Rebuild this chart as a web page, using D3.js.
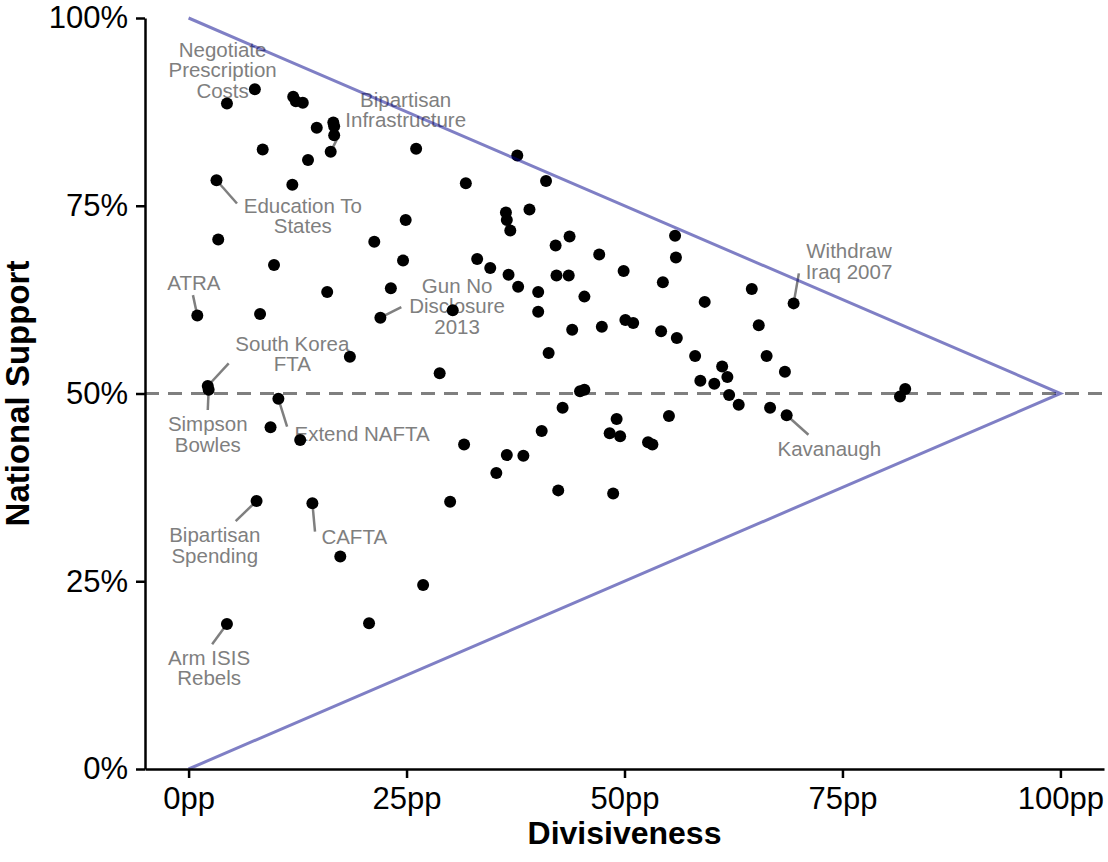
<!DOCTYPE html>
<html>
<head>
<meta charset="utf-8">
<script src="https://cdn.jsdelivr.net/npm/d3@7"></script>
<style>
  body { margin: 0; background: #fff; }
  svg { display: block; font-family: "Liberation Sans", Arial, Helvetica, sans-serif; }
</style>
</head>
<body>
<div class="chart"></div>
<script>
// divisiveness (pp) and national support (%) for each bill / vote
var divisiveness = [4.4, 7.6, 12.0, 12.3, 13.1, 16.6, 16.7, 16.7, 14.7, 16.3,
  8.5, 13.7, 26.1, 3.2, 11.9, 31.8, 24.9, 21.3, 3.4, 24.6,
  9.8, 15.9, 23.2, 37.7, 41.0, 36.4, 36.5, 36.9, 39.1, 43.7,
  42.1, 47.1, 55.8, 55.9, 33.1, 34.6, 36.7, 42.2, 43.6, 49.9,
  54.4, 64.6, 37.8, 40.1, 40.1, 45.4, 59.2, 69.4, 44.0, 47.4,
  50.1, 51.0, 54.2, 56.0, 65.4, 41.3, 58.1, 66.3, 68.4, 61.2,
  61.8, 58.7, 60.3, 44.9, 45.4, 62.0, 63.1, 66.7, 68.6, 42.9,
  49.1, 55.1, 48.3, 49.5, 40.5, 31.6, 52.7, 53.2, 36.5, 38.4,
  35.3, 42.4, 48.7, 1.0, 8.2, 22.0, 30.3, 18.5, 28.8, 2.2,
  2.3, 10.3, 9.4, 12.8, 7.8, 14.2, 30.0, 17.4, 82.2, 81.6,
  26.9, 20.7, 4.4];

var support = [88.6, 90.5, 89.5, 88.9, 88.7, 86.1, 85.6, 84.4, 85.4, 82.2,
  82.5, 81.1, 82.6, 78.4, 77.8, 78.0, 73.1, 70.2, 70.5, 67.7,
  67.1, 63.5, 64.0, 81.7, 78.3, 74.1, 73.1, 71.7, 74.5, 70.9,
  69.7, 68.5, 71.0, 68.1, 67.9, 66.7, 65.8, 65.7, 65.7, 66.3,
  64.8, 63.9, 64.2, 63.5, 60.9, 62.9, 62.2, 62.0, 58.5, 58.9,
  59.8, 59.4, 58.3, 57.4, 59.1, 55.4, 55.0, 55.0, 52.9, 53.6,
  52.2, 51.7, 51.3, 50.3, 50.5, 49.8, 48.5, 48.1, 47.1, 48.1,
  46.6, 47.0, 44.7, 44.3, 45.0, 43.2, 43.5, 43.2, 41.8, 41.7,
  39.4, 37.1, 36.7, 60.4, 60.6, 60.1, 61.1, 54.9, 52.7, 51.0,
  50.5, 49.3, 45.5, 43.8, 35.7, 35.4, 35.6, 28.3, 50.6, 49.6,
  24.5, 19.4, 19.3];

var xTicks = [0, 25, 50, 75, 100];
var yTicks = [0, 25, 50, 75, 100];

// the "no-man's land" triangle: full support at 0pp down to 50/50 at 100pp
var triangle = [[0, 100], [100, 50], [0, 0]];

// labelled votes: which point, where the label sits, where its leader line stops
var notes = [
  {lines: ["Negotiate", "Prescription", "Costs"], point: 0, lx: 3.9, ly: 93.1, sx: null, sy: null},
  {lines: ["Bipartisan", "Infrastructure"], point: 9, lx: 24.9, ly: 87.8, sx: 17.0, sy: 83.8},
  {lines: ["Education To", "States"], point: 13, lx: 13.1, ly: 73.7, sx: 5.55, sy: 75.3},
  {lines: ["ATRA"], point: 83, lx: 0.6, ly: 64.7, sx: 0.5, sy: 63.1},
  {lines: ["Gun No", "Disclosure", "2013"], point: 85, lx: 30.8, ly: 61.7, sx: 24.4, sy: 61.5},
  {lines: ["South Korea", "FTA"], point: 89, lx: 11.9, ly: 55.3, sx: 4.6, sy: 54.0},
  {lines: ["Simpson", "Bowles"], point: 90, lx: 2.2, ly: 44.6, sx: 2.2, sy: 47.8},
  {lines: ["Extend NAFTA"], point: 91, lx: 19.9, ly: 44.7, sx: 11.3, sy: 45.6},
  {lines: ["Bipartisan", "Spending"], point: 94, lx: 3.0, ly: 29.8, sx: 5.4, sy: 33.0},
  {lines: ["CAFTA"], point: 95, lx: 19.0, ly: 31.0, sx: 14.5, sy: 31.6},
  {lines: ["Arm ISIS", "Rebels"], point: 102, lx: 2.35, ly: 13.5, sx: 2.7, sy: 16.6},
  {lines: ["Withdraw", "Iraq 2007"], point: 47, lx: 75.75, ly: 67.6, sx: 70.0, sy: 66.0},
  {lines: ["Kavanaugh"], point: 68, lx: 73.5, ly: 42.7, sx: 71.1, sy: 44.5}
];

var width = 1108,
    height = 862;

var margin = {top: 18, right: 4, bottom: 93, left: 145};

var points = divisiveness.map(function(d, i) { return {x: d, y: support[i]}; });

var x = d3.scaleLinear()
  .domain([-5, 105])
  .range([margin.left, width - margin.right]);

var y = d3.scaleLinear()
  .domain([0, 100])
  .range([height - margin.bottom, margin.top]);

var svg = d3.select(".chart").append("svg")
  .attr("width", width)
  .attr("height", height);

svg.append("rect")
  .attr("width", width)
  .attr("height", height)
  .attr("fill", "#fff");

// 50% reference line
svg.append("line")
  .attr("x1", x.range()[0])
  .attr("x2", x.range()[1])
  .attr("y1", y(50))
  .attr("y2", y(50))
  .attr("stroke", "#7f7f7f")
  .attr("stroke-width", 3)
  .attr("stroke-dasharray", "14,9");

// leader lines + labels (under the points)
var noteG = svg.append("g");

noteG.selectAll("line")
  .data(notes.filter(function(d) { return d.sx !== null; }))
  .enter().append("line")
  .attr("x1", function(d) { return x(points[d.point].x); })
  .attr("y1", function(d) { return y(points[d.point].y); })
  .attr("x2", function(d) { return x(d.sx); })
  .attr("y2", function(d) { return y(d.sy); })
  .attr("stroke", "#7f7f7f")
  .attr("stroke-width", 2.5);

var lineStep = 20.5;

noteG.selectAll("text")
  .data(notes)
  .enter().append("text")
  .attr("text-anchor", "middle")
  .attr("font-size", "20.5px")
  .attr("fill", "#7f7f7f")
  .each(function(d) {
    var t = d3.select(this);
    var n = d.lines.length;
    d.lines.forEach(function(s, i) {
      t.append("tspan")
        .attr("x", x(d.lx))
        .attr("y", y(d.ly) + (i - (n - 1) / 2) * lineStep)
        .attr("dy", "0.36em")
        .text(s);
    });
  });

// points
svg.append("g").selectAll("circle")
  .data(points)
  .enter().append("circle")
  .attr("cx", function(d) { return x(d.x); })
  .attr("cy", function(d) { return y(d.y); })
  .attr("r", 6)
  .attr("fill", "#000");

// triangle edges, semi transparent dark blue on top
svg.append("path")
  .datum(triangle)
  .attr("d", d3.line()
    .x(function(d) { return x(d[0]); })
    .y(function(d) { return y(d[1]); }))
  .attr("fill", "none")
  .attr("stroke", "#00008b")
  .attr("stroke-opacity", 0.5)
  .attr("stroke-width", 3);

// axes
var xAxis = svg.append("g")
  .attr("transform", "translate(0," + y(0) + ")")
  .call(d3.axisBottom(x)
    .tickValues(xTicks)
    .tickFormat(function(d) { return d + "pp"; })
    .tickSize(9)
    .tickSizeOuter(0)
    .tickPadding(9));

var yAxis = svg.append("g")
  .attr("transform", "translate(" + x.range()[0] + ",0)")
  .call(d3.axisLeft(y)
    .tickValues(yTicks)
    .tickFormat(function(d) { return d + "%"; })
    .tickSize(9)
    .tickSizeOuter(0)
    .tickPadding(8));

[xAxis, yAxis].forEach(function(a) {
  a.select(".domain").attr("stroke", "#000").attr("stroke-width", 2.5);
  a.selectAll(".tick line").attr("stroke", "#000").attr("stroke-width", 2.5);
  a.selectAll(".tick text")
    .attr("fill", "#000")
    .attr("font-size", "31px")
    .attr("font-family", "'Liberation Sans', Arial, Helvetica, sans-serif");
});

xAxis.selectAll(".tick text").attr("dy", "0.71em");

// axis titles
svg.append("text")
  .attr("x", (x.range()[0] + x.range()[1]) / 2)
  .attr("y", 844)
  .attr("text-anchor", "middle")
  .attr("font-size", "32px")
  .attr("font-weight", "bold")
  .text("Divisiveness");

svg.append("text")
  .attr("transform", "translate(29," + (y.range()[0] + y.range()[1]) / 2 + ") rotate(-90)")
  .attr("text-anchor", "middle")
  .attr("font-size", "33px")
  .attr("font-weight", "bold")
  .text("National Support");
</script>
</body>
</html>
